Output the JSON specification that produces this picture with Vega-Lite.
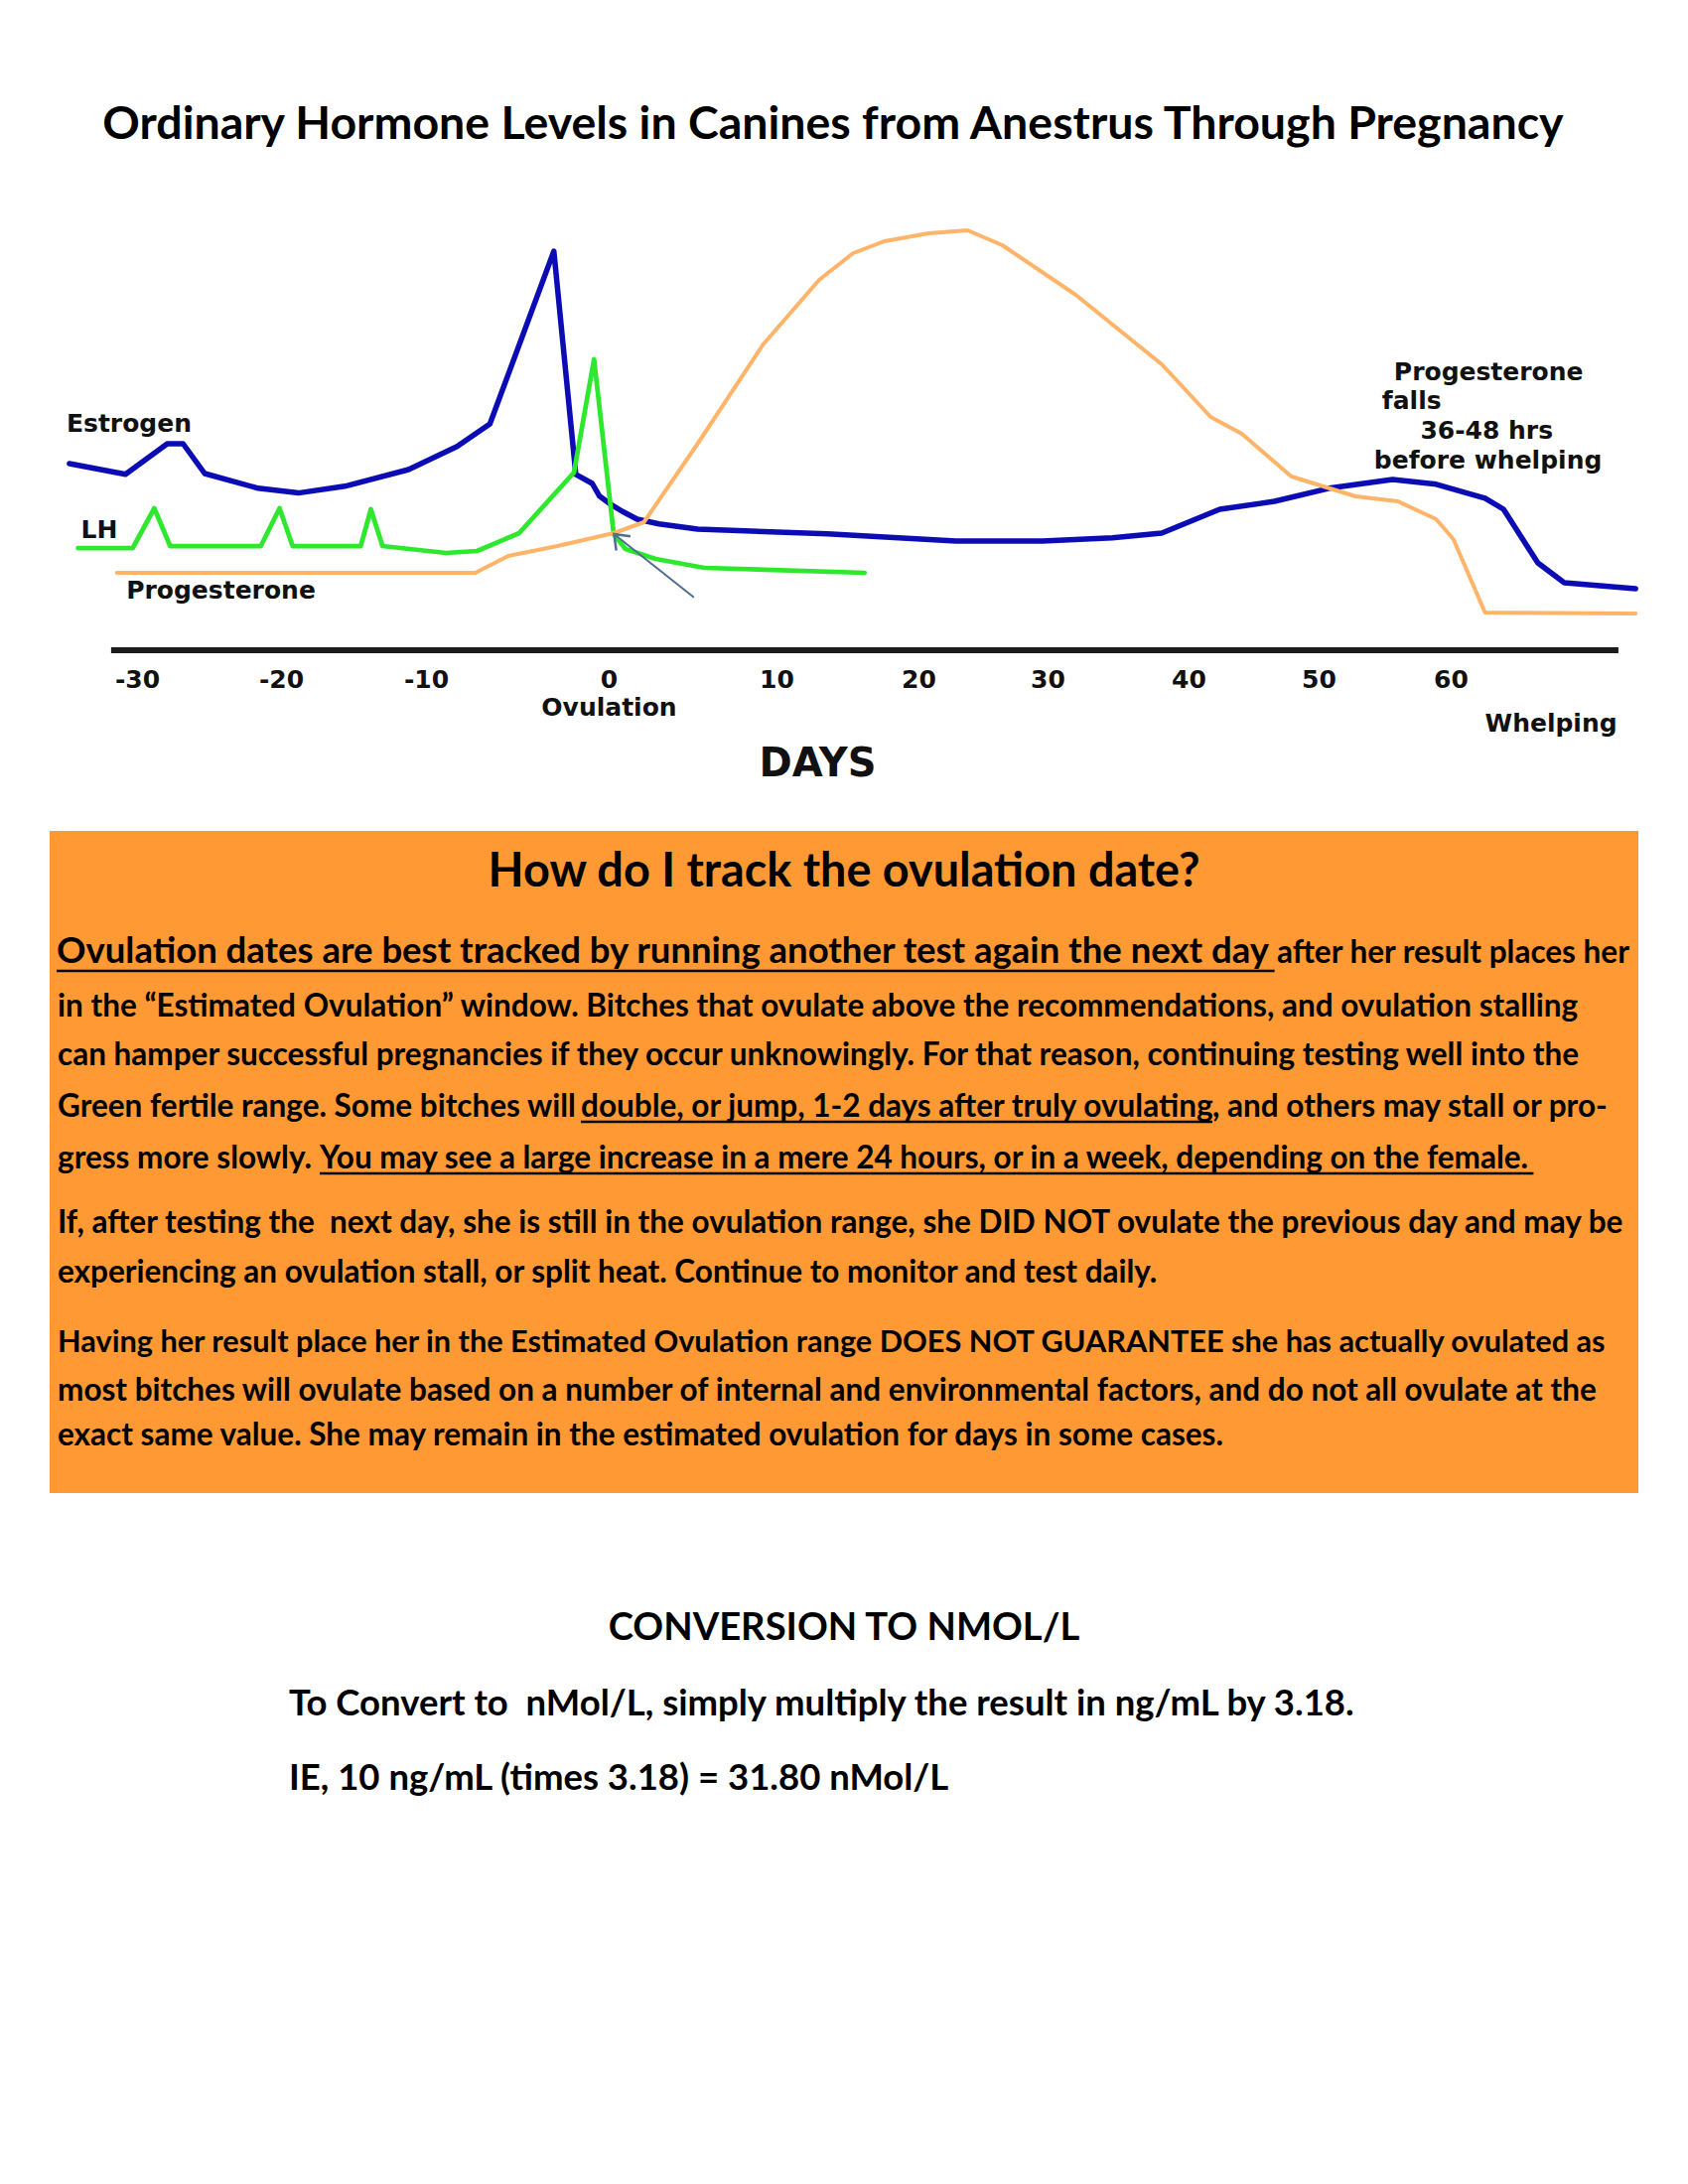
{
  "$schema": "https://vega.github.io/schema/vega-lite/v6.json",
  "background": "white",
  "padding": {"top": 103, "left": 0, "right": 0, "bottom": 0},
  "title": {"text": "Ordinary Hormone Levels in Canines from Anestrus Through Pregnancy", "font": "Lato", "fontSize": 46.5, "fontWeight": "bold", "color": "#000000", "anchor": "middle", "offset": 13.5, "dx": -11},
  "config": {"view": {"stroke": null}},
  "spacing": 182,
  "bounds": "flush",
  "center": true,
  "datasets": {
    "hormones": [
      {"hormone": "Estrogen", "day": -34.7, "level": 47},
      {"hormone": "Estrogen", "day": -30.8, "level": 44.3},
      {"hormone": "Estrogen", "day": -27.9, "level": 52},
      {"hormone": "Estrogen", "day": -26.8, "level": 52},
      {"hormone": "Estrogen", "day": -25.3, "level": 44.5},
      {"hormone": "Estrogen", "day": -21.6, "level": 40.8},
      {"hormone": "Estrogen", "day": -18.8, "level": 39.6},
      {"hormone": "Estrogen", "day": -15.6, "level": 41.3},
      {"hormone": "Estrogen", "day": -11.2, "level": 45.5},
      {"hormone": "Estrogen", "day": -8.3, "level": 51.3},
      {"hormone": "Estrogen", "day": -6.5, "level": 57},
      {"hormone": "Estrogen", "day": -3.0, "level": 100.5},
      {"hormone": "Estrogen", "day": -1.8, "level": 44.3},
      {"hormone": "Estrogen", "day": -0.9, "level": 42},
      {"hormone": "Estrogen", "day": -0.5, "level": 38.8},
      {"hormone": "Estrogen", "day": 0.1, "level": 36.8},
      {"hormone": "Estrogen", "day": 0.8, "level": 35},
      {"hormone": "Estrogen", "day": 1.7, "level": 33},
      {"hormone": "Estrogen", "day": 3.0, "level": 31.8},
      {"hormone": "Estrogen", "day": 5.3, "level": 30.5},
      {"hormone": "Estrogen", "day": 13.6, "level": 29.3},
      {"hormone": "Estrogen", "day": 22.9, "level": 27.5},
      {"hormone": "Estrogen", "day": 29.6, "level": 27.5},
      {"hormone": "Estrogen", "day": 34.6, "level": 28.3},
      {"hormone": "Estrogen", "day": 38.1, "level": 29.5},
      {"hormone": "Estrogen", "day": 42.4, "level": 35.5},
      {"hormone": "Estrogen", "day": 46.6, "level": 37.5},
      {"hormone": "Estrogen", "day": 50.8, "level": 40.8},
      {"hormone": "Estrogen", "day": 55.6, "level": 43},
      {"hormone": "Estrogen", "day": 58.9, "level": 41.8},
      {"hormone": "Estrogen", "day": 62.6, "level": 38.3},
      {"hormone": "Estrogen", "day": 64.0, "level": 35.5},
      {"hormone": "Estrogen", "day": 66.6, "level": 22},
      {"hormone": "Estrogen", "day": 68.6, "level": 17},
      {"hormone": "Estrogen", "day": 74.0, "level": 15.5},
      {"hormone": "LH", "day": -34.1, "level": 25.75},
      {"hormone": "LH", "day": -30.3, "level": 25.75},
      {"hormone": "LH", "day": -28.8, "level": 35.75},
      {"hormone": "LH", "day": -27.7, "level": 26.25},
      {"hormone": "LH", "day": -21.4, "level": 26.25},
      {"hormone": "LH", "day": -20.1, "level": 35.75},
      {"hormone": "LH", "day": -19.2, "level": 26.25},
      {"hormone": "LH", "day": -14.5, "level": 26.25},
      {"hormone": "LH", "day": -13.8, "level": 35.5},
      {"hormone": "LH", "day": -13.0, "level": 26.25},
      {"hormone": "LH", "day": -8.9, "level": 24.5},
      {"hormone": "LH", "day": -7.2, "level": 25},
      {"hormone": "LH", "day": -4.9, "level": 29.5},
      {"hormone": "LH", "day": -1.9, "level": 44.75},
      {"hormone": "LH", "day": -0.8, "level": 73.25},
      {"hormone": "LH", "day": 0.3, "level": 29.25},
      {"hormone": "LH", "day": 1.0, "level": 25.5},
      {"hormone": "LH", "day": 2.8, "level": 23},
      {"hormone": "LH", "day": 5.7, "level": 20.75},
      {"hormone": "LH", "day": 16.2, "level": 19.5},
      {"hormone": "Progesterone", "day": -31.4, "level": 19.5},
      {"hormone": "Progesterone", "day": -7.3, "level": 19.5},
      {"hormone": "Progesterone", "day": -5.5, "level": 23.75},
      {"hormone": "Progesterone", "day": -2.8, "level": 26.25},
      {"hormone": "Progesterone", "day": 0.3, "level": 29.5},
      {"hormone": "Progesterone", "day": 2.1, "level": 32.25},
      {"hormone": "Progesterone", "day": 5.3, "level": 52},
      {"hormone": "Progesterone", "day": 9.2, "level": 77},
      {"hormone": "Progesterone", "day": 13.0, "level": 93.25},
      {"hormone": "Progesterone", "day": 15.4, "level": 100},
      {"hormone": "Progesterone", "day": 17.6, "level": 103},
      {"hormone": "Progesterone", "day": 20.8, "level": 105},
      {"hormone": "Progesterone", "day": 23.8, "level": 105.75},
      {"hormone": "Progesterone", "day": 26.5, "level": 102},
      {"hormone": "Progesterone", "day": 32.0, "level": 89.5},
      {"hormone": "Progesterone", "day": 38.1, "level": 72},
      {"hormone": "Progesterone", "day": 41.7, "level": 58.75},
      {"hormone": "Progesterone", "day": 44.1, "level": 54.5},
      {"hormone": "Progesterone", "day": 47.9, "level": 43.75},
      {"hormone": "Progesterone", "day": 52.8, "level": 38.75},
      {"hormone": "Progesterone", "day": 56.0, "level": 37.5},
      {"hormone": "Progesterone", "day": 58.9, "level": 33},
      {"hormone": "Progesterone", "day": 60.2, "level": 28},
      {"hormone": "Progesterone", "day": 61.4, "level": 18.75},
      {"hormone": "Progesterone", "day": 62.6, "level": 9.5},
      {"hormone": "Progesterone", "day": 74.0, "level": 9.25}
    ],
    "axisline": [{"day": -31.8, "day2": 72.7, "level": 0}],
    "arrow": [{"day": 5.08, "level": 13.3, "day2": 0.32, "level2": 29.25}],
    "arrowhead": [{"day": 0.32, "level": 29.25}],
    "chartLabels": [
      {"label": "Estrogen", "day": -34.9, "level": 55},
      {"label": "LH", "day": -33.9, "level": 28.25},
      {"label": "Progesterone", "day": -30.75, "level": 13},
      {"label": "Progesterone", "day": 55.7, "level": 68},
      {"label": "falls", "day": 54.8, "level": 60.75},
      {"label": "36-48 hrs", "day": 57.7, "level": 53.25},
      {"label": "before whelping", "day": 54.2, "level": 45.75},
      {"label": "Whelping", "day": 62.6, "level": -20.5}
    ],
    "box": [{"col": 0, "col2": 100, "pos": 0, "pos2": 13.34}],
    "underlines": [
      {"col": 0.44, "col2": 77.1, "pos": 2.82},
      {"col": 33.44, "col2": 73.19, "pos": 5.86},
      {"col": 17.0, "col2": 93.4, "pos": 6.9}
    ],
    "boxHeading": [{"txt": "How do I track the ovulation date?", "col": 50, "pos": 1.12}],
    "bodyLarge": [{"txt": "Ovulation dates are best tracked by running another test again the next day", "col": 0.44, "pos": 2.66}],
    "body": [
      {"txt": "after her result places her", "col": 77.25, "pos": 2.66},
      {"txt": "in the “Estimated Ovulation” window. Bitches that ovulate above the recommendations, and ovulation stalling", "col": 0.5, "pos": 3.74},
      {"txt": "can hamper successful pregnancies if they occur unknowingly. For that reason, continuing testing well into the", "col": 0.5, "pos": 4.72},
      {"txt": "Green fertile range. Some bitches will", "col": 0.5, "pos": 5.76},
      {"txt": "double, or jump, 1-2 days after truly ovulating", "col": 33.44, "pos": 5.76},
      {"txt": ", and others may stall or pro-", "col": 73.19, "pos": 5.76},
      {"txt": "gress more slowly.", "col": 0.5, "pos": 6.8},
      {"txt": "You may see a large increase in a mere 24 hours, or in a week, depending on the female.", "col": 17.0, "pos": 6.8},
      {"txt": "If, after testing the \u00a0next day, she is still in the ovulation range, she DID NOT ovulate the previous day and may be", "col": 0.5, "pos": 8.1},
      {"txt": "experiencing an ovulation stall, or split heat. Continue to monitor and test daily.", "col": 0.5, "pos": 9.1},
      {"txt": "most bitches will ovulate based on a number of internal and environmental factors, and do not all ovulate at the", "col": 0.5, "pos": 11.48},
      {"txt": "exact same value. She may remain in the estimated ovulation for days in some cases.", "col": 0.5, "pos": 12.38}
    ],
    "bodyCaps": [
      {"txt": "Having her result place her in the Estimated Ovulation range DOES NOT GUARANTEE she has actually ovulated as", "col": 0.5, "pos": 10.5}
    ],
    "convHeading": [{"txt": "CONVERSION TO NMOL/L", "col": 50, "pos": 16.3}],
    "convBody": [
      {"txt": "To Convert to \u00a0nMol/L, simply multiply the result in ng/mL by 3.18.", "col": 15.06, "pos": 17.82},
      {"txt": "IE, 10 ng/mL (times 3.18) = 31.80 nMol/L", "col": 15.06, "pos": 19.32}
    ]
  },
  "vconcat": [
    {
      "width": 1700,
      "height": 492,
      "encoding": {
        "x": {
          "field": "day", "type": "quantitative",
          "scale": {"domain": [-30, -20, -10, 0, 10, 20, 30, 40, 50, 60], "range": [138, 283, 429, 613, 782, 925, 1055, 1197, 1328, 1461], "nice": false, "zero": false},
          "axis": {
            "values": [-30, -20, -10, 0, 10, 20, 30, 40, 50, 60],
            "domain": false, "ticks": false, "tickSize": 0, "grid": false,
            "labelExpr": "datum.value == 0 ? ['0', 'Ovulation'] : '' + datum.value",
            "labelFont": "DejaVu Sans", "labelFontWeight": "bold", "labelFontSize": 25, "labelColor": "#111111",
            "labelBaseline": "alphabetic", "labelPadding": 37, "labelLineHeight": 28,
            "labelOverlap": false, "labelFlush": false,
            "title": "DAYS", "titleFont": "DejaVu Sans", "titleFontWeight": "bold", "titleFontSize": 40, "titleColor": "#111111",
            "titleX": 823, "titleY": 126, "titleBaseline": "alphabetic"
          }
        },
        "y": {"field": "level", "type": "quantitative", "scale": {"domain": [0, 123], "nice": false, "zero": false}, "axis": null}
      },
      "layer": [
        {"data": {"name": "axisline"}, "mark": {"type": "rule", "stroke": "#1c1c1c", "strokeWidth": 6}, "encoding": {"x2": {"field": "day2"}}},
        {
          "data": {"name": "hormones"},
          "mark": {"type": "line", "strokeJoin": "round", "strokeCap": "round"},
          "encoding": {
            "color": {"field": "hormone", "type": "nominal", "scale": {"domain": ["Estrogen", "LH", "Progesterone"], "range": ["#0c0cb4", "#2ee82e", "#ffb469"]}, "legend": null},
            "strokeWidth": {"field": "hormone", "type": "nominal", "scale": {"domain": ["Estrogen", "LH", "Progesterone"], "range": [5.5, 4, 4]}, "legend": null}
          }
        },
        {"data": {"name": "arrow"}, "mark": {"type": "rule", "stroke": "#4d6e8f", "strokeWidth": 2}, "encoding": {"x2": {"field": "day2"}, "y2": {"field": "level2"}}},
        {"data": {"name": "arrowhead"}, "mark": {"type": "point", "shape": "M1.1,0.15 L0,0 L0.15,1.1", "filled": false, "stroke": "#4d6e8f", "strokeWidth": 2.5, "size": 900, "opacity": 1}, "encoding": {}},
        {"data": {"name": "chartLabels"}, "mark": {"type": "text", "align": "left", "baseline": "alphabetic", "font": "DejaVu Sans", "fontWeight": "bold", "fontSize": 25, "color": "#111111"}, "encoding": {"text": {"field": "label"}}}
      ]
    },
    {
      "width": 1600,
      "height": 1000,
      "encoding": {
        "x": {"field": "col", "type": "quantitative", "scale": {"domain": [0, 100], "nice": false, "zero": false}, "axis": null},
        "y": {"field": "pos", "type": "quantitative", "scale": {"domain": [0, 20], "nice": false, "zero": false, "reverse": true}, "axis": null}
      },
      "layer": [
        {"data": {"name": "box"}, "mark": {"type": "rect", "color": "#ff9933"}, "encoding": {"x2": {"field": "col2"}, "y2": {"field": "pos2"}}},
        {"data": {"name": "underlines"}, "mark": {"type": "rule", "stroke": "#000000", "strokeWidth": 2.5}, "encoding": {"x2": {"field": "col2"}}},
        {"data": {"name": "boxHeading"}, "mark": {"type": "text", "align": "center", "baseline": "alphabetic", "font": "Lato", "fontWeight": "bold", "fontSize": 46.8, "color": "#000000"}, "encoding": {"text": {"field": "txt"}}},
        {"data": {"name": "bodyLarge"}, "mark": {"type": "text", "align": "left", "baseline": "alphabetic", "font": "Lato", "fontWeight": "bold", "fontSize": 36.5, "color": "#000000"}, "encoding": {"text": {"field": "txt"}}},
        {"data": {"name": "body"}, "mark": {"type": "text", "align": "left", "baseline": "alphabetic", "font": "Lato", "fontWeight": "bold", "fontSize": 31.5, "color": "#000000"}, "encoding": {"text": {"field": "txt"}}},
        {"data": {"name": "bodyCaps"}, "mark": {"type": "text", "align": "left", "baseline": "alphabetic", "font": "Lato", "fontWeight": "bold", "fontSize": 30.7, "color": "#000000"}, "encoding": {"text": {"field": "txt"}}},
        {"data": {"name": "convHeading"}, "mark": {"type": "text", "align": "center", "baseline": "alphabetic", "font": "Lato", "fontWeight": "bold", "fontSize": 38.2, "color": "#000000"}, "encoding": {"text": {"field": "txt"}}},
        {"data": {"name": "convBody"}, "mark": {"type": "text", "align": "left", "baseline": "alphabetic", "font": "Lato", "fontWeight": "bold", "fontSize": 36.5, "color": "#000000"}, "encoding": {"text": {"field": "txt"}}}
      ]
    }
  ]
}
